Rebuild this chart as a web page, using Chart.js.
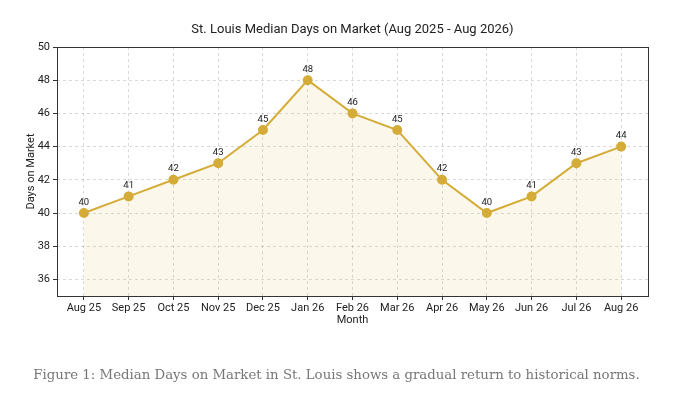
<!DOCTYPE html>
<html>
<head>
<meta charset="utf-8">
<script src="https://cdn.jsdelivr.net/npm/chart.js@4/dist/chart.umd.min.js"></script>
<style>
  html, body { margin: 0; padding: 0; background: #fff; }
  #wrap { position: relative; width: 673px; height: 416px; }
  #caption {
    position: absolute; left: 0; width: 673px; top: 367px;
    text-align: center; font-family: "DejaVu Serif", serif;
    font-size: 13.3px; color: #777;
  }
</style>
</head>
<body>
<div id="wrap">
  <canvas id="chart" width="673" height="416"></canvas>
  <div id="caption">Figure 1: Median Days on Market in St. Louis shows a gradual return to historical norms.</div>
</div>
<script>
// Datos del gráfico
const months = ["Aug 25", "Sep 25", "Oct 25", "Nov 25", "Dec 25", "Jan 26", "Feb 26",
  "Mar 26", "Apr 26", "May 26", "Jun 26", "Jul 26", "Aug 26"];
const daysOnMarket = [40, 41, 42, 43, 45, 48, 46, 45, 42, 40, 41, 43, 44];
const yTicks = [36, 38, 40, 42, 44, 46, 48, 50];

const SANS = "Roboto, 'Open Sans', sans-serif";
const gold = "rgb(212, 172, 55)";

// Título, marco y etiquetas de valores
const extras = {
  id: "extras",
  afterDraw(chart) {
    const { ctx, chartArea: a } = chart;
    ctx.save();
    ctx.strokeStyle = "#333";
    ctx.lineWidth = 1;
    ctx.strokeRect(a.left + 0.5, a.top + 0.5, a.right - a.left, a.bottom - a.top);

    ctx.fillStyle = "#222";
    ctx.font = "13px " + SANS;
    ctx.textAlign = "center";
    ctx.textBaseline = "middle";
    ctx.fillText("St. Louis Median Days on Market (Aug 2025 - Aug 2026)", (a.left + a.right) / 2, 30);

    ctx.font = "9.5px " + SANS;
    ctx.textBaseline = "bottom";
    const meta = chart.getDatasetMeta(0);
    meta.data.forEach((pt, i) => {
      ctx.fillText(String(daysOnMarket[i]), pt.x, pt.y - 6);
    });
    ctx.restore();
  }
};

const gridOpts = {
  color: "rgba(0,0,0,0.15)",
  tickColor: "#333",
  tickLength: 4
};

new Chart(document.getElementById("chart"), {
  type: "line",
  data: {
    datasets: [{
      data: daysOnMarket.map((v, i) => ({ x: i, y: v })),
      borderColor: gold,
      backgroundColor: "rgba(212, 172, 55, 0.1)",
      fill: "start",
      borderWidth: 2,
      pointRadius: 4,
      pointBackgroundColor: gold,
      pointBorderColor: gold,
      tension: 0
    }]
  },
  options: {
    responsive: false,
    animation: false,
    layout: { padding: { left: 0, right: 25, top: 47, bottom: 89 } },
    plugins: { legend: { display: false }, tooltip: { enabled: false } },
    scales: {
      x: {
        type: "linear",
        min: -0.6,
        max: 12.6,
        afterBuildTicks: (s) => { s.ticks = months.map((_, i) => ({ value: i })); },
        afterFit: (s) => { s.height = 31; },
        ticks: {
          callback: (v) => months[v],
          color: "#222",
          font: { family: SANS, size: 11 },
          maxRotation: 0,
          autoSkip: false,
          padding: 2
        },
        grid: gridOpts,
        border: { display: false, dash: [3, 3] },
        title: {
          display: true,
          text: "Month",
          color: "#222",
          font: { family: SANS, size: 11 },
          padding: { top: 0, bottom: 0 }
        }
      },
      y: {
        min: 35,
        max: 50,
        afterBuildTicks: (s) => { s.ticks = yTicks.map((v) => ({ value: v })); },
        afterFit: (s) => { s.width = 57; },
        ticks: {
          color: "#222",
          font: { family: SANS, size: 11 },
          padding: 3
        },
        grid: gridOpts,
        border: { display: false, dash: [3, 3] },
        title: {
          display: true,
          text: "Days on Market",
          color: "#222",
          font: { family: SANS, size: 11 },
          padding: { top: 25, bottom: 0 }
        }
      }
    }
  },
  plugins: [extras]
});
</script>
</body>
</html>
